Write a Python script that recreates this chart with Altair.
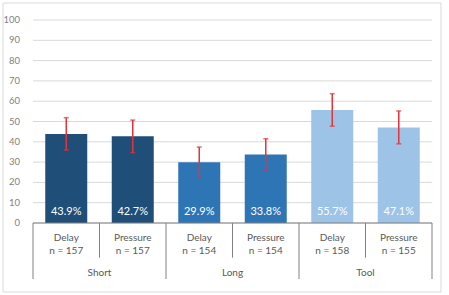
import altair as alt
import pandas as pd

# Condition data
groups = ["Short", "Short", "Long", "Long", "Tool", "Tool"]
conditions = ["Delay", "Pressure", "Delay", "Pressure", "Delay", "Pressure"]
sample_sizes = [157, 157, 154, 154, 158, 155]
percent = [43.9, 42.7, 29.9, 33.8, 55.7, 47.1]
error = [8.0, 8.0, 7.5, 7.7, 8.0, 8.1]
y_ticks = [0, 10, 20, 30, 40, 50, 60, 70, 80, 90, 100]

group_names = ["Short", "Long", "Tool"]
group_colors = ["#1F4E79", "#2E75B6", "#9DC3E6"]

FONT = "Lato"
TEXT_GRAY = "#595959"
LINE_GRAY = "#808080"

df = pd.DataFrame({
    "group": groups,
    "condition": conditions,
    "n_label": [f"n = {n}" for n in sample_sizes],
    "value": percent,
    "lo": [v - e for v, e in zip(percent, error)],
    "hi": [v + e for v, e in zip(percent, error)],
    "label": [f"{v:.1f}%" for v in percent],
})
df["pos"] = [i + 0.5 for i in range(len(df))]
# rows for the category-table text below the axis
df["y_cond"] = -7.2
df["y_n"] = -13.8
df["y_val"] = 5.4

# group labels centred under each pair
grp = pd.DataFrame({"group": group_names,
                    "pos": [2 * i + 1.0 for i in range(len(group_names))]})
grp["y"] = -24.4

# dividers of the category table: long ones between groups, short ones inside
edges = list(range(len(df) + 1))
div = pd.DataFrame({
    "pos": edges,
    "y": [0] * len(edges),
    "y2": [-27.6 if e % 2 == 0 else -17.1 for e in edges],
})

# horizontal gridlines with their value labels
grid = pd.DataFrame({"y": y_ticks, "pos": 0, "b": len(df)})
grid["txt"] = grid["y"].astype(str)

x_scale = alt.Scale(domain=[0, len(df)], nice=False, zero=False)
y_scale = alt.Scale(domain=[0, 100], nice=False)

X = alt.X("pos:Q", scale=x_scale, axis=None)


def Y(field):
    return alt.Y(field, scale=y_scale, axis=None)


grid_lines = alt.Chart(grid).mark_rule(color="#D9D9D9", strokeWidth=1).encode(
    x=X, x2="b:Q", y=Y("y:Q"))
grid_labels = alt.Chart(grid).mark_text(
    font=FONT, fontSize=9.5, color="#7F7F7F", align="right",
    baseline="middle").encode(x=alt.value(-8), y=Y("y:Q"), text="txt:N")

base = alt.Chart(df)

bars = base.mark_bar(size=42).encode(
    x=X,
    y=Y("value:Q"),
    color=alt.Color("group:N", scale=alt.Scale(domain=group_names,
                                               range=group_colors),
                    legend=None),
)

err_rule = base.mark_rule(color="#E5323B", strokeWidth=1.5).encode(
    x=X, y=Y("lo:Q"), y2="hi:Q")
cap_lo = base.mark_tick(color="#E5323B", orient="horizontal", size=5,
                        thickness=1.5).encode(x=X, y=Y("lo:Q"))
cap_hi = base.mark_tick(color="#E5323B", orient="horizontal", size=5,
                        thickness=1.5).encode(x=X, y=Y("hi:Q"))

val_text = base.mark_text(font=FONT, fontSize=11, color="white",
                          baseline="middle").encode(
    x=X, y=Y("y_val:Q"), text="label:N")

cond_text = base.mark_text(font=FONT, fontSize=10, color=TEXT_GRAY,
                           baseline="middle").encode(
    x=X, y=Y("y_cond:Q"), text="condition:N")
n_text = base.mark_text(font=FONT, fontSize=10, color=TEXT_GRAY,
                        baseline="middle").encode(
    x=X, y=Y("y_n:Q"), text="n_label:N")
grp_text = alt.Chart(grp).mark_text(font=FONT, fontSize=10, color=TEXT_GRAY,
                                    baseline="middle").encode(
    x=X, y=Y("y:Q"), text="group:N")

baseline = alt.Chart(pd.DataFrame({"pos": [0], "b": [len(df)], "y": [0]})).mark_rule(
    color=LINE_GRAY, strokeWidth=1).encode(x=X, x2="b:Q", y=Y("y:Q"))
dividers = alt.Chart(div).mark_rule(color=LINE_GRAY, strokeWidth=1).encode(
    x=X, y=Y("y:Q"), y2="y2:Q")

frame = alt.Chart(pd.DataFrame({"k": [0]})).mark_rect(
    fill=None, stroke="#D9D9D9", strokeWidth=1).encode(
    x=alt.value(-25), x2=alt.value(413), y=alt.value(-17), y2=alt.value(272))

chart = alt.layer(
    frame, grid_lines, grid_labels, bars, err_rule, cap_lo, cap_hi, val_text,
    baseline, dividers, cond_text, n_text, grp_text,
).properties(
    width=409, height=203,
    autosize=alt.AutoSizeParams(type="none"),
    padding={"left": 28, "top": 20, "right": 12, "bottom": 72},
    background="white",
).configure_view(stroke=None)

chart.save("out.html", embed_options={"renderer": "svg", "actions": False})
